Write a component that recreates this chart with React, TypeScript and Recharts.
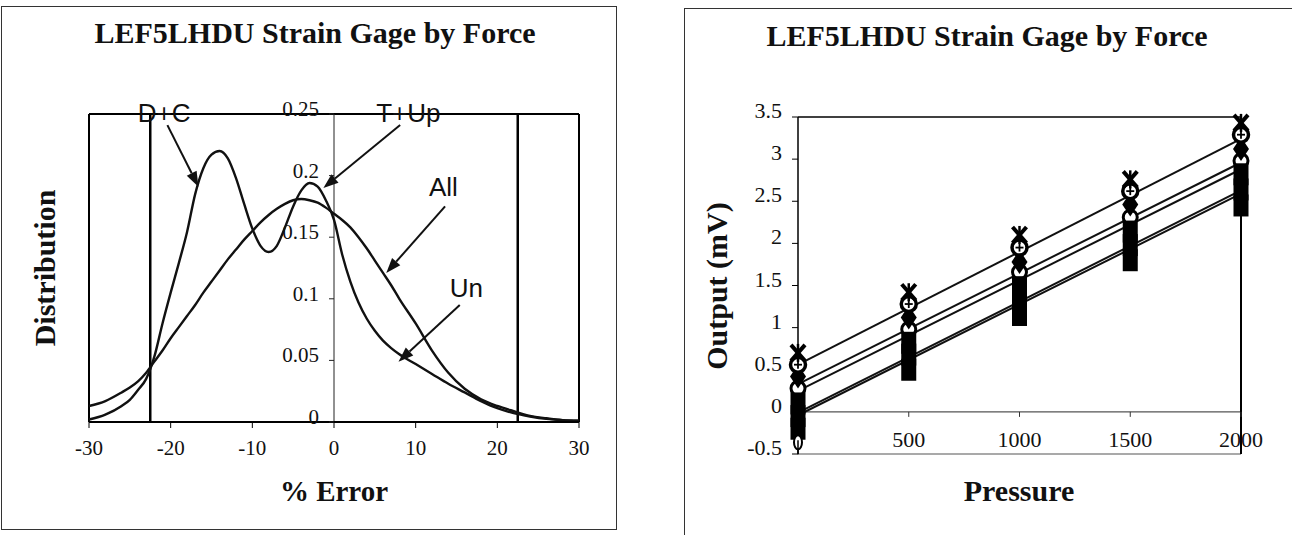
import React from 'react';
import {
  LineChart,
  ComposedChart,
  Line,
  Scatter,
  XAxis,
  YAxis,
  ReferenceLine,
  ReferenceDot,
} from 'recharts';

// ---- left chart: distribution of % error ----
const errorPct = [
  -30, -28, -26, -25, -24, -23, -22, -21, -20, -19, -18, -17, -16, -15, -14, -13, -12, -11, -10,
  -9, -8, -7, -6, -5, -4, -3, -2, -1, 0, 1, 2, 3, 4, 5, 6, 7, 8, 10, 12, 14, 16, 18, 20, 22, 24,
  26, 28, 30,
];
const allDist = [
  0.013, 0.017, 0.024, 0.028, 0.033, 0.04, 0.049, 0.058, 0.068, 0.077, 0.086, 0.095, 0.105,
  0.114, 0.123, 0.132, 0.14, 0.148, 0.155, 0.162, 0.168, 0.173, 0.177, 0.18, 0.181, 0.18, 0.178,
  0.174, 0.169, 0.164, 0.158, 0.15, 0.141, 0.131, 0.121, 0.111, 0.1, 0.08, 0.058, 0.04,
  0.027, 0.0185, 0.013, 0.0088, 0.005, 0.003, 0.0015, 0.001,
];
const groupDist = [
  0.002, 0.006, 0.013, 0.018, 0.026, 0.035, 0.053, 0.08, 0.105, 0.129, 0.154, 0.185, 0.206,
  0.217, 0.22, 0.214, 0.198, 0.177, 0.157, 0.143, 0.138, 0.143, 0.158, 0.175, 0.188, 0.194,
  0.191, 0.18, 0.164, 0.136, 0.114, 0.097, 0.084, 0.074, 0.066, 0.06, 0.055, 0.047, 0.039,
  0.031, 0.024, 0.017, 0.0112, 0.0072, 0.0045, 0.0025, 0.0015, 0.001,
];
const errorTicks = [-30, -20, -10, 0, 10, 20, 30];
const distTicks = [0, 0.05, 0.1, 0.15, 0.2, 0.25];

const notes = [
  { text: 'D+C', x: -20.8, y: 0.251 },
  { text: 'T+Up', x: 9.1, y: 0.251 },
  { text: 'All', x: 13.4, y: 0.191 },
  { text: 'Un', x: 16.2, y: 0.109 },
];
const arrows = [
  { x1: -20.4, y1: 0.241, x2: -16.6, y2: 0.191 },
  { x1: 8.1, y1: 0.241, x2: -1.3, y2: 0.19 },
  { x1: 13.6, y1: 0.175, x2: 6.4, y2: 0.121 },
  { x1: 15.4, y1: 0.095, x2: 7.9, y2: 0.049 },
];

// ---- right chart: output vs pressure ----
const pressure = [0, 500, 1000, 1500, 2000];
const gaugeA = [0.7, 1.42, 2.1, 2.76, 3.43];
const gaugeB = [0.56, 1.28, 1.95, 2.62, 3.29];
const gaugeC = [0.42, 1.12, 1.78, 2.46, 3.12];
const gaugeD = [0.28, 0.98, 1.66, 2.31, 2.98];
const gaugeE = [0.1, 0.82, 1.48, 2.14, 2.82];
const gaugeF = [-0.05, 0.68, 1.32, 1.98, 2.64];
const gaugeG = [-0.2, 0.5, 1.15, 1.8, 2.45];
const extraPressure = [0];
const extraOutput = [-0.36];

const fitPressure = [0, 2000];
const fit1 = [0.56, 3.24];
const fit2 = [0.33, 2.96];
const fit3 = [0.25, 2.88];
const fit4 = [-0.01, 2.63];
const fit5 = [-0.04, 2.59];

const outputTicks = [-0.5, 0, 0.5, 1, 1.5, 2, 2.5, 3, 3.5];

const SERIF = '"Liberation Serif", "Times New Roman", serif';
const SANS = '"Liberation Sans", Arial, sans-serif';

const distData = errorPct.map((x, i) => ({ x, all: allDist[i], group: groupDist[i] }));
const pts = (xs: number[], ys: number[]) => xs.map((p, i) => ({ p, v: ys[i] }));

// layout
const L_W = 640;
const L_H = 535;
const L_MARGIN = { top: 114, right: 61, bottom: 53, left: 29 };
const L_YW = 60;
const L_PLOT_W = L_W - L_MARGIN.left - L_MARGIN.right - L_YW;

const R_W = 647;
const R_H = 535;
const R_MARGIN = { top: 117, right: 51, bottom: 41, left: 93 };
const R_XH = 40;
const R_PLOT_H = R_H - R_MARGIN.top - R_MARGIN.bottom - R_XH;

const DistTick = (props: any) => {
  const { x, y, payload } = props;
  const ax = x + L_PLOT_W / 2; // y axis sits at 0 %
  return (
    <g>
      <line x1={ax - 5} y1={y} x2={ax} y2={y} stroke="#222" strokeWidth={1} />
      <text x={ax - 15} y={y + 2} textAnchor="end" fontFamily={SERIF} fontSize={21} fill="#111">
        {payload.value}
      </text>
    </g>
  );
};

const PressureTick = (props: any) => {
  const { x, y, payload } = props;
  if (payload.value === 0) return <g />;
  const ay = y - R_PLOT_H / 8; // axis line at output 0
  return (
    <g>
      <line x1={x} y1={ay} x2={x} y2={ay + 5} stroke="#333" strokeWidth={1} />
      <text x={x} y={ay + 35} textAnchor="middle" fontFamily={SERIF} fontSize={22} fill="#111">
        {payload.value}
      </text>
    </g>
  );
};

const OutputTick = (props: any) => {
  const { x, y, payload } = props;
  return (
    <text x={x} y={y + 1} textAnchor="end" fontFamily={SERIF} fontSize={22} fill="#111">
      {payload.value}
    </text>
  );
};

const Arrow = (props: any) => {
  const { x1, y1, x2, y2 } = props;
  const ang = Math.atan2(y2 - y1, x2 - x1);
  const len = 15;
  const half = 5.5;
  const bx = x2 - len * Math.cos(ang);
  const by = y2 - len * Math.sin(ang);
  const px = -Math.sin(ang) * half;
  const py = Math.cos(ang) * half;
  return (
    <g>
      <line x1={x1} y1={y1} x2={bx} y2={by} stroke="#111" strokeWidth={2} />
      <polygon points={`${x2},${y2} ${bx + px},${by + py} ${bx - px},${by - py}`} fill="#111" />
    </g>
  );
};

const noteShape = (text: string) => (props: any) => (
  <text x={props.cx} y={props.cy} dy="0.36em" textAnchor="middle" fontFamily={SANS} fontSize={26} fill="#111">
    {text}
  </text>
);

// marker shapes
const starShape = ({ cx, cy }: any) => (
  <g stroke="#000" strokeWidth={4}>
    <line x1={cx - 7} y1={cy - 8} x2={cx + 7} y2={cy + 8} />
    <line x1={cx - 7} y1={cy + 8} x2={cx + 7} y2={cy - 8} />
    <line x1={cx} y1={cy - 9} x2={cx} y2={cy + 9} strokeWidth={2.5} />
  </g>
);
const ringPlusShape = ({ cx, cy }: any) => (
  <g>
    <circle cx={cx} cy={cy} r={7.5} fill="#fff" stroke="#000" strokeWidth={3.5} />
    <line x1={cx - 4} y1={cy} x2={cx + 4} y2={cy} stroke="#000" strokeWidth={1.8} />
    <line x1={cx} y1={cy - 4} x2={cx} y2={cy + 4} stroke="#000" strokeWidth={1.8} />
  </g>
);
const diamondShape = ({ cx, cy }: any) => (
  <polygon points={`${cx},${cy - 12} ${cx + 8},${cy} ${cx},${cy + 12} ${cx - 8},${cy}`} fill="#000" />
);
const ringShape = ({ cx, cy }: any) => (
  <circle cx={cx} cy={cy} r={7} fill="#fff" stroke="#000" strokeWidth={3} />
);
const squareShape = ({ cx, cy }: any) => <rect x={cx - 7.5} y={cy - 11} width={15} height={22} fill="#000" />;
const ovalShape = ({ cx, cy }: any) => (
  <g>
    <ellipse cx={cx} cy={cy} rx={4} ry={7} fill="#fff" stroke="#000" strokeWidth={2} />
    <line x1={cx} y1={cy - 2} x2={cx} y2={cy + 12} stroke="#000" strokeWidth={1.5} />
  </g>
);

const markerSeries = [
  { name: 'A', xs: pressure, ys: gaugeD, shape: ringShape },
  { name: 'B', xs: pressure, ys: gaugeG, shape: squareShape },
  { name: 'C', xs: pressure, ys: gaugeF, shape: squareShape },
  { name: 'D', xs: pressure, ys: gaugeE, shape: squareShape },
  { name: 'E', xs: pressure, ys: gaugeC, shape: diamondShape },
  { name: 'F', xs: pressure, ys: gaugeB, shape: ringPlusShape },
  { name: 'G', xs: pressure, ys: gaugeA, shape: starShape },
  { name: 'H', xs: extraPressure, ys: extraOutput, shape: ovalShape },
];
const fitSeries = [fit1, fit2, fit3, fit4, fit5];

const titleStyle: React.CSSProperties = {
  position: 'absolute',
  transform: 'translateX(-50%)',
  fontFamily: SERIF,
  fontWeight: 'bold',
  fontSize: 30,
  lineHeight: '30px',
  whiteSpace: 'nowrap',
  color: '#111',
};

export default function App() {
  return (
    <div
      style={{
        position: 'absolute',
        left: 0,
        top: 0,
        width: 1292,
        height: 535,
        overflow: 'hidden',
        background: '#fff',
      }}
    >
      {/* panel frames */}
      <div
        style={{
          position: 'absolute',
          left: 1,
          top: 6,
          width: 616,
          height: 524,
          border: '1.5px solid #333',
          boxSizing: 'border-box',
        }}
      />
      <div
        style={{
          position: 'absolute',
          left: 684,
          top: 8,
          width: 640,
          height: 560,
          border: '1.5px solid #333',
          boxSizing: 'border-box',
        }}
      />

      {/* left: distribution */}
      <div style={{ ...titleStyle, left: 315, top: 18 }}>LEF5LHDU Strain Gage by Force</div>
      <div style={{ ...titleStyle, left: 334, top: 476, fontSize: 29 }}>% Error</div>
      <div
        style={{
          ...titleStyle,
          left: 45,
          top: 268,
          transform: 'translate(-50%, -50%) rotate(-90deg)',
        }}
      >
        Distribution
      </div>

      <div style={{ position: 'absolute', left: 0, top: 0 }}>
        <LineChart width={L_W} height={L_H} data={distData} margin={L_MARGIN}>
          <XAxis
            dataKey="x"
            type="number"
            domain={[-30, 30]}
            ticks={errorTicks}
            height={60}
            axisLine={{ stroke: '#000', strokeWidth: 2 }}
            tickLine={{ stroke: '#000' }}
            tickSize={6}
            tickMargin={12}
            tick={{ fontFamily: SERIF, fontSize: 21, fill: '#111' }}
          />
          <YAxis
            type="number"
            domain={[0, 0.25]}
            ticks={distTicks}
            width={L_YW}
            axisLine={false}
            tickLine={false}
            tickSize={0}
            tickMargin={0}
            tick={<DistTick />}
          />
          <ReferenceLine y={0.25} stroke="#000" strokeWidth={2} />
          <ReferenceLine x={-30} stroke="#000" strokeWidth={2} />
          <ReferenceLine x={30} stroke="#000" strokeWidth={2} />
          <ReferenceLine x={0} stroke="#222" strokeWidth={1} />
          <ReferenceLine x={-22.5} stroke="#000" strokeWidth={2.5} />
          <ReferenceLine x={22.5} stroke="#000" strokeWidth={2.5} />
          <Line
            dataKey="all"
            type="monotone"
            stroke="#111"
            strokeWidth={2.4}
            dot={false}
            isAnimationActive={false}
          />
          <Line
            dataKey="group"
            type="monotone"
            stroke="#111"
            strokeWidth={2.4}
            dot={false}
            isAnimationActive={false}
          />
          {arrows.map((a, i) => (
            <ReferenceLine
              key={`arrow-${i}`}
              segment={[
                { x: a.x1, y: a.y1 },
                { x: a.x2, y: a.y2 },
              ]}
              ifOverflow="visible"
              shape={<Arrow />}
            />
          ))}
          {notes.map((n) => (
            <ReferenceDot
              key={n.text}
              x={n.x}
              y={n.y}
              r={0}
              ifOverflow="visible"
              shape={noteShape(n.text)}
            />
          ))}
        </LineChart>
      </div>

      {/* right: output vs pressure */}
      <div style={{ ...titleStyle, left: 987, top: 21 }}>LEF5LHDU Strain Gage by Force</div>
      <div style={{ ...titleStyle, left: 1019, top: 476 }}>Pressure</div>
      <div
        style={{
          ...titleStyle,
          left: 717,
          top: 286,
          transform: 'translate(-50%, -50%) rotate(-90deg)',
        }}
      >
        Output (mV)
      </div>

      <div style={{ position: 'absolute', left: 645, top: 0 }}>
        <ComposedChart width={R_W} height={R_H} margin={R_MARGIN}>
          <XAxis
            dataKey="p"
            type="number"
            domain={[0, 2000]}
            ticks={pressure}
            height={R_XH}
            axisLine={false}
            tickLine={false}
            tickSize={0}
            tickMargin={0}
            tick={<PressureTick />}
          />
          <YAxis
            dataKey="v"
            type="number"
            domain={[-0.5, 3.5]}
            ticks={outputTicks}
            width={60}
            axisLine={{ stroke: '#000', strokeWidth: 1.5 }}
            tickLine={{ stroke: '#000' }}
            tickSize={6}
            tickMargin={10}
            tick={<OutputTick />}
          />
          <ReferenceLine y={3.5} stroke="#000" strokeWidth={1.5} />
          <ReferenceLine y={-0.5} stroke="#555" strokeWidth={1.2} />
          <ReferenceLine y={0} stroke="#555" strokeWidth={1.2} />
          <ReferenceLine x={2000} stroke="#000" strokeWidth={2} />
          {fitSeries.map((f, i) => (
            <Line
              key={`fit-${i}`}
              data={pts(fitPressure, f)}
              dataKey="v"
              type="linear"
              stroke="#111"
              strokeWidth={2}
              dot={false}
              isAnimationActive={false}
            />
          ))}
          {markerSeries.map((s) => (
            <Scatter
              key={s.name}
              name={s.name}
              data={pts(s.xs, s.ys)}
              dataKey="v"
              shape={s.shape}
              isAnimationActive={false}
            />
          ))}
        </ComposedChart>
      </div>
    </div>
  );
}
